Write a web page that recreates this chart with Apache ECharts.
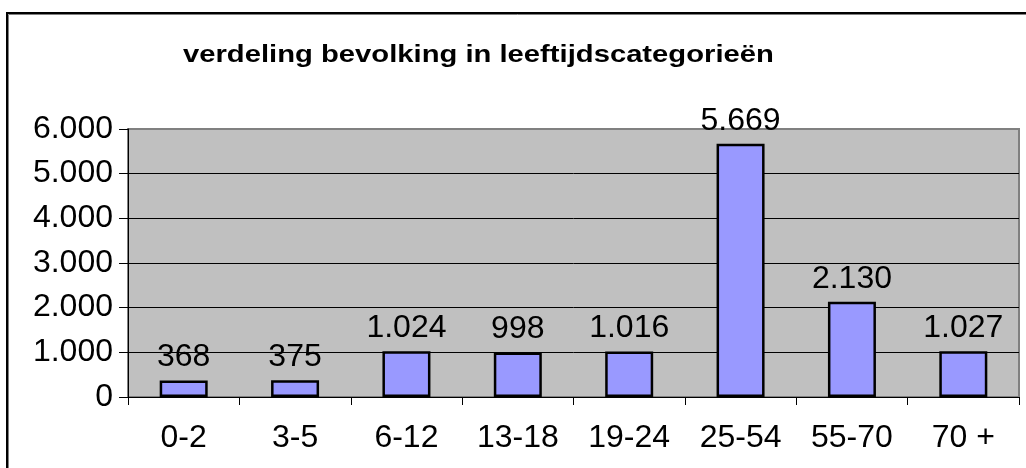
<!DOCTYPE html>
<html>
<head>
<meta charset="utf-8">
<script src="https://cdn.jsdelivr.net/npm/echarts@6/dist/echarts.min.js"></script>
<style>
html,body{margin:0;padding:0;background:#fff;}
#chart{width:1026px;height:468px;}
</style>
</head>
<body>
<div id="chart"></div>
<script>
var titleText = 'verdeling bevolking in leeftijdscategorieën';
var categories = ['0-2', '3-5', '6-12', '13-18', '19-24', '25-54', '55-70', '70 +'];
var values = [368, 375, 1024, 998, 1016, 5669, 2130, 1027];
var yTicks = [0, 1000, 2000, 3000, 4000, 5000, 6000];

function fmt(v) {
  return String(v).replace(/\B(?=(\d{3})+(?!\d))/g, '.');
}

var chart = echarts.init(document.getElementById('chart'), null, {renderer: 'canvas'});
var font = 'Liberation Sans, Arial, sans-serif';
chart.setOption({
  animation: false,
  backgroundColor: '#fff',
  graphic: [{
    type: 'rect',
    shape: {x: 8.5, y: 14.5, width: 1040, height: 480},
    style: {fill: 'none', stroke: '#808080', lineWidth: 1},
    z: 99
  }, {
    type: 'rect',
    shape: {x: 7, y: 13, width: 1040, height: 480},
    style: {fill: 'none', stroke: '#000', lineWidth: 2},
    z: 100
  }, {
    type: 'text',
    x: 183,
    y: 56,
    scaleX: 1.27,
    style: {
      text: titleText,
      fill: '#000',
      font: 'bold 23px Liberation Sans, Arial, sans-serif',
      textAlign: 'left',
      textVerticalAlign: 'middle'
    },
    z: 100
  }],
  grid: {
    left: 128, right: 7, top: 129, bottom: 71,
    show: true, backgroundColor: '#C0C0C0', borderColor: '#808080', borderWidth: 2
  },
  xAxis: {
    type: 'category',
    data: categories,
    boundaryGap: true,
    axisLine: {lineStyle: {color: '#000', width: 1}},
    axisTick: {show: true, alignWithLabel: false, length: 8, lineStyle: {color: '#000'}},
    axisLabel: {color: '#000', fontFamily: font, fontSize: 32, margin: 25}
  },
  yAxis: {
    type: 'value',
    min: yTicks[0],
    max: yTicks[yTicks.length - 1],
    interval: 1000,
    axisLine: {show: true, lineStyle: {color: '#000', width: 1}},
    axisTick: {show: true, length: 9, lineStyle: {color: '#000'}},
    axisLabel: {color: '#000', fontFamily: font, fontSize: 32, margin: 15, formatter: fmt},
    splitLine: {show: true, showMaxLine: false, lineStyle: {color: '#000', width: 1}}
  },
  series: [{
    type: 'bar',
    data: values,
    barWidth: 48,
    itemStyle: {color: '#9999FF', borderColor: '#000', borderWidth: 2.5},
    label: {
      show: true, position: 'top', distance: 7,
      color: '#000', fontFamily: font, fontSize: 32,
      formatter: function (p) { return fmt(p.value); }
    }
  }]
});
</script>
</body>
</html>
